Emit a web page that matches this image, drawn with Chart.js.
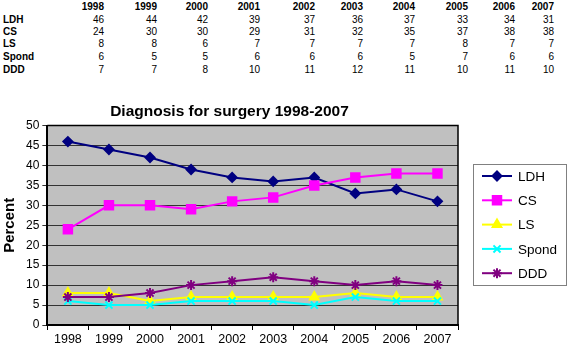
<!DOCTYPE html>
<html>
<head>
<meta charset="utf-8">
<title>Diagnosis for surgery 1998-2007</title>
<script src="https://cdn.jsdelivr.net/npm/chart.js@4.4.0/dist/chart.umd.min.js"></script>
<style>
    body { margin: 0; background: #fff; font-family: "Liberation Sans", Arial, sans-serif; }
    #table { position: absolute; left: 0; top: 0; width: 568px; height: 90px; font-size: 10px; color: #000; }
    #table div { position: absolute; white-space: nowrap; line-height: 12px; }
    #chart { position: absolute; left: 0; top: 95px; }
</style>
</head>
<body>
<div id="table"></div>
<canvas id="chart" width="568" height="254"></canvas>
<script>
// data (percent of surgeries per diagnosis)
var years = ['1998', '1999', '2000', '2001', '2002', '2003', '2004', '2005', '2006', '2007'];
var ldh   = [46, 44, 42, 39, 37, 36, 37, 33, 34, 31];
var cs    = [24, 30, 30, 29, 31, 32, 35, 37, 38, 38];
var ls    = [8, 8, 6, 7, 7, 7, 7, 8, 7, 7];
var spond = [6, 5, 5, 6, 6, 6, 5, 7, 6, 6];
var ddd   = [7, 7, 8, 10, 11, 12, 11, 10, 11, 10];
var yTicks = [0, 5, 10, 15, 20, 25, 30, 35, 40, 45, 50];

var series = [
    { label: 'LDH',   data: ldh,   color: '#000080', style: 'rectRot',  r: 4.5 },
    { label: 'CS',    data: cs,    color: '#ff00ff', style: 'rect',     r: 6 },
    { label: 'LS',    data: ls,    color: '#ffff00', style: 'triangle', r: 5 },
    { label: 'Spond', data: spond, color: '#00ffff', style: 'crossRot', r: 5 },
    { label: 'DDD',   data: ddd,   color: '#800080', style: 'star',     r: 5 }
];

// table above the chart
var tbl = document.getElementById('table');
var colRight = [104, 157, 208, 260, 315, 363, 415, 468, 515, 554];
var rowMid = [7, 20, 32, 44, 57, 70];
function cell(txt, right, mid, bold) {
    var d = document.createElement('div');
    d.textContent = txt;
    d.style.left = (right - 40) + 'px';
    d.style.width = '40px';
    d.style.textAlign = 'right';
    d.style.top = (mid - 6) + 'px';
    if (bold) d.style.fontWeight = 'bold';
    tbl.appendChild(d);
}
years.forEach(function (y, j) { cell(y, colRight[j], rowMid[0], true); });
series.forEach(function (s, i) {
    var l = document.createElement('div');
    l.textContent = s.label;
    l.style.left = '3px';
    l.style.top = (rowMid[i + 1] - 6) + 'px';
    l.style.fontWeight = 'bold';
    tbl.appendChild(l);
    s.data.forEach(function (v, j) { cell(String(v), colRight[j], rowMid[i + 1], false); });
});

// gray plot area + dark frame
var plotFrame = {
    id: 'plotFrame',
    beforeDraw: function (chart) {
        var a = chart.chartArea, ctx = chart.ctx;
        ctx.save();
        ctx.fillStyle = '#c0c0c0';
        ctx.fillRect(a.left, a.top, a.right - a.left, a.bottom - a.top);
        ctx.restore();
    },
    afterDatasetsDraw: function (chart) {
        var a = chart.chartArea, ctx = chart.ctx;
        ctx.save();
        ctx.strokeStyle = '#000';
        ctx.lineWidth = 1.5;
        ctx.beginPath();
        ctx.moveTo(a.left, a.top);
        ctx.lineTo(a.right, a.top);
        ctx.lineTo(a.right, a.bottom);
        ctx.stroke();
        ctx.restore();
    }
};

// boxed legend with line + marker samples
var boxLegend = {
    id: 'boxLegend',
    afterDraw: function (chart) {
        var ctx = chart.ctx;
        var x = chart.width - 95, y = 69, w = 94, h = 122;
        ctx.save();
        ctx.fillStyle = '#fff';
        ctx.fillRect(x, y, w, h);
        ctx.strokeStyle = '#808080';
        ctx.lineWidth = 1;
        ctx.strokeRect(x + 0.5, y + 0.5, w - 1, h - 1);
        ctx.font = '13.5px "Liberation Sans", Arial, sans-serif';
        ctx.textBaseline = 'middle';
        chart.data.datasets.forEach(function (ds, i) {
            var cy = y + 12 + i * 24.3;
            ctx.strokeStyle = ds.borderColor;
            ctx.fillStyle = ds.borderColor;
            ctx.lineWidth = 2;
            ctx.beginPath();
            ctx.moveTo(x + 9, cy);
            ctx.lineTo(x + 39, cy);
            ctx.stroke();
            Chart.helpers.drawPoint(ctx, { pointStyle: ds.pointStyle, radius: ds.pointRadius, borderWidth: 2, rotation: 0 }, x + 24, cy);
            ctx.fillStyle = '#000';
            ctx.fillText(ds.label, x + 45, cy + 1);
        });
        ctx.restore();
    }
};

var datasets = series.map(function (s, i) {
    return {
        label: s.label,
        data: s.data,
        borderColor: s.color,
        backgroundColor: s.color,
        pointBackgroundColor: s.color,
        pointBorderColor: s.color,
        pointStyle: s.style,
        pointRadius: s.r,
        pointBorderWidth: 2,
        borderWidth: 2,
        tension: 0,
        order: series.length - i
    };
});

new Chart(document.getElementById('chart'), {
    type: 'line',
    data: { labels: years, datasets: datasets },
    options: {
        responsive: false,
        animation: false,
        layout: { padding: { left: 1, right: 110, top: 0, bottom: 0 } },
        plugins: {
            legend: { display: false },
            tooltip: { enabled: false },
            title: {
                display: true,
                text: 'Diagnosis for surgery 1998-2007',
                color: '#000',
                font: { family: '"Liberation Sans", Arial, sans-serif', size: 15.5, weight: 'bold' },
                padding: { top: 7, bottom: 5 }
            }
        },
        scales: {
            x: {
                offset: true,
                grid: { offset: true, drawOnChartArea: false, drawTicks: true, tickLength: 5, color: '#000' },
                border: { color: '#000', width: 2 },
                ticks: { color: '#000', maxRotation: 0, padding: 2, font: { family: '"Liberation Sans", Arial, sans-serif', size: 12.5 } }
            },
            y: {
                min: 0,
                max: 50,
                afterBuildTicks: function (axis) { axis.ticks = yTicks.map(function (v) { return { value: v }; }); },
                grid: { color: '#333', tickLength: 5, drawTicks: true },
                border: { color: '#000', width: 2 },
                ticks: { color: '#000', padding: 3, font: { family: '"Liberation Sans", Arial, sans-serif', size: 12 } },
                title: {
                    display: true,
                    text: 'Percent',
                    color: '#000',
                    font: { family: '"Liberation Sans", Arial, sans-serif', size: 15, weight: 'bold' },
                    padding: { top: 0, bottom: 4 }
                }
            }
        }
    },
    plugins: [plotFrame, boxLegend]
});
</script>
</body>
</html>
